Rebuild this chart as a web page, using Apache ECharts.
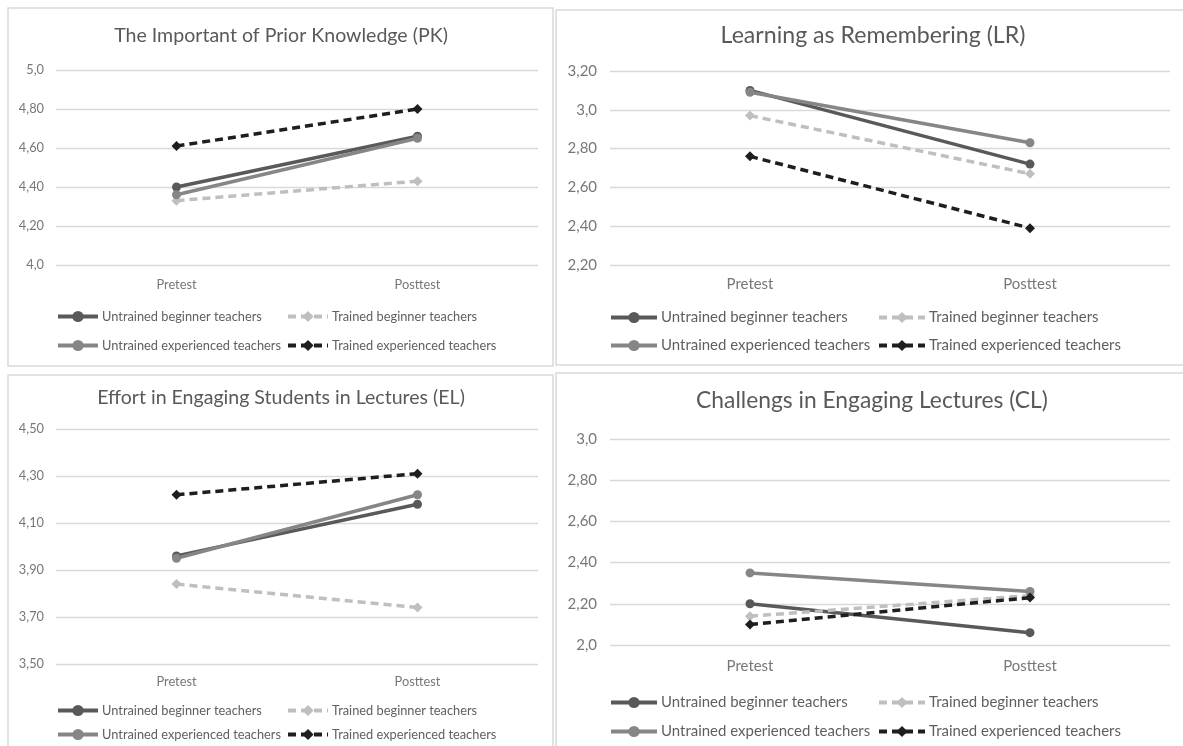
<!DOCTYPE html>
<html>
<head>
<meta charset="utf-8">
<script src="https://cdn.jsdelivr.net/npm/echarts@6/dist/echarts.min.js"></script>
<style>
html,body{margin:0;padding:0;background:#fff;}
#chart{width:1183px;height:746px;}
</style>
</head>
<body>
<div id="chart"></div>
<script>
// ---------- data ----------
const categories = ['Pretest', 'Posttest'];
const seriesNames = ['Untrained beginner teachers', 'Trained beginner teachers', 'Untrained experienced teachers', 'Trained experienced teachers'];

const pkTitle = 'The Important of Prior Knowledge (PK)';
const pkUntrainedBeginner = [4.40, 4.66];
const pkTrainedBeginner = [4.33, 4.43];
const pkUntrainedExperienced = [4.36, 4.65];
const pkTrainedExperienced = [4.61, 4.80];
const pkTicks = ['4,0', '4,20', '4,40', '4,60', '4,80', '5,0'];

const lrTitle = 'Learning as Remembering (LR)';
const lrUntrainedBeginner = [3.10, 2.72];
const lrTrainedBeginner = [2.97, 2.67];
const lrUntrainedExperienced = [3.09, 2.83];
const lrTrainedExperienced = [2.76, 2.39];
const lrTicks = ['2,20', '2,40', '2,60', '2,80', '3,0', '3,20'];

const elTitle = 'Effort in Engaging Students in Lectures (EL)';
const elUntrainedBeginner = [3.96, 4.18];
const elTrainedBeginner = [3.84, 3.74];
const elUntrainedExperienced = [3.95, 4.22];
const elTrainedExperienced = [4.22, 4.31];
const elTicks = ['3,50', '3,70', '3,90', '4,10', '4,30', '4,50'];

const clTitle = 'Challengs in Engaging Lectures (CL)';
const clUntrainedBeginner = [2.20, 2.06];
const clTrainedBeginner = [2.14, 2.24];
const clUntrainedExperienced = [2.35, 2.26];
const clTrainedExperienced = [2.10, 2.23];
const clTicks = ['2,0', '2,20', '2,40', '2,60', '2,80', '3,0'];

// ---------- styling helpers ----------
const FONT = 'Lato';
function fitSize(text, target) {
  const ctx = document.createElement('canvas').getContext('2d');
  ctx.font = '100px ' + FONT;
  return 100 * target / ctx.measureText(text).width;
}
const smallL = fitSize('Untrained beginner teachers', 160);
const smallR = fitSize('Untrained beginner teachers', 187);

const seriesStyles = [
  { color: '#595959', type: 'solid', symbol: 'circle', size: 9 },
  { color: '#bfbfbf', type: [8, 5], symbol: 'diamond', size: 10 },
  { color: '#868686', type: 'solid', symbol: 'circle', size: 9 },
  { color: '#1e1e1e', type: [8, 5], symbol: 'diamond', size: 10 }
];

const panels = [
  { title: pkTitle, titleW: 334, cx: 281, ty: 37, data: [pkUntrainedBeginner, pkTrainedBeginner, pkUntrainedExperienced, pkTrainedExperienced],
    ticks: pkTicks, min: 4.0, max: 5.0, grid: { left: 56, top: 70, width: 482, height: 195 }, font: smallL, labelMargin: 12,
    catY: 285, legendX: [56, 286], legendY: [317, 346], iw: 40 },
  { title: lrTitle, titleW: 305, cx: 873, ty: 38, data: [lrUntrainedBeginner, lrTrainedBeginner, lrUntrainedExperienced, lrTrainedExperienced],
    ticks: lrTicks, min: 2.2, max: 3.2, grid: { left: 610, top: 71, width: 560, height: 194 }, font: smallR, labelMargin: 13,
    catY: 284, legendX: [609, 877], legendY: [317, 345], iw: 46 },
  { title: elTitle, titleW: 368, cx: 281, ty: 399, data: [elUntrainedBeginner, elTrainedBeginner, elUntrainedExperienced, elTrainedExperienced],
    ticks: elTicks, min: 3.5, max: 4.5, grid: { left: 56, top: 429, width: 482, height: 235 }, font: smallL, labelMargin: 12,
    catY: 682, legendX: [56, 286], legendY: [711, 735], iw: 40 },
  { title: clTitle, titleW: 352, cx: 872, ty: 403, data: [clUntrainedBeginner, clTrainedBeginner, clUntrainedExperienced, clTrainedExperienced],
    ticks: clTicks, min: 2.0, max: 3.0, grid: { left: 610, top: 439, width: 560, height: 206 }, font: smallR, labelMargin: 13,
    catY: 666, legendX: [609, 877], legendY: [702, 731], iw: 46 }
];

const option = {
  backgroundColor: '#ffffff',
  animation: false,
  title: [], grid: [], xAxis: [], yAxis: [], series: [], legend: [],
  graphic: [
    { type: 'rect', shape: { x: 8, y: 8, width: 545, height: 358 }, style: { fill: 'none', stroke: '#d9d9d9', lineWidth: 1.5 }, z: 0 },
    { type: 'rect', shape: { x: 556, y: 10, width: 640, height: 355 }, style: { fill: 'none', stroke: '#d9d9d9', lineWidth: 1.5 }, z: 0 },
    { type: 'rect', shape: { x: 8, y: 375, width: 545, height: 400 }, style: { fill: 'none', stroke: '#d9d9d9', lineWidth: 1.5 }, z: 0 },
    { type: 'rect', shape: { x: 556, y: 373, width: 640, height: 400 }, style: { fill: 'none', stroke: '#d9d9d9', lineWidth: 1.5 }, z: 0 }
  ]
};

panels.forEach((p, gi) => {
  const tSize = fitSize(p.title, p.titleW);
  option.title.push({
    text: p.title, left: p.cx, top: p.ty - tSize * 0.6, textAlign: 'center', padding: 0,
    textStyle: { fontFamily: FONT, fontWeight: 'normal', fontSize: tSize, color: '#595959' }
  });
  option.grid.push(Object.assign({ containLabel: false }, p.grid));
  option.xAxis.push({
    type: 'category', gridIndex: gi, data: categories, boundaryGap: true,
    axisLine: { show: false }, axisTick: { show: false },
    axisLabel: { fontFamily: FONT, fontSize: p.font, color: '#777777', margin: p.catY - (p.grid.top + p.grid.height) - p.font / 2 }
  });
  const ticks = p.ticks;
  option.yAxis.push({
    type: 'value', gridIndex: gi, min: p.min, max: p.max, interval: 0.2,
    axisLine: { show: false }, axisTick: { show: false },
    splitLine: { lineStyle: { color: '#d9d9d9', width: 1.3 } },
    axisLabel: { fontFamily: FONT, fontSize: p.font, color: '#777777', margin: p.labelMargin,
      formatter: (v, i) => ticks[i] !== undefined ? ticks[i] : '' }
  });
  p.data.forEach((vals, si) => {
    const st = seriesStyles[si];
    option.series.push({
      type: 'line', name: seriesNames[si], xAxisIndex: gi, yAxisIndex: gi, data: vals,
      symbol: st.symbol, symbolSize: st.size,
      lineStyle: { color: st.color, width: 3.5, type: st.type },
      itemStyle: { color: st.color },
      z: 3
    });
  });
  const order = [[0, 0], [1, 0], [0, 1], [1, 1]]; // [col,row] per series
  seriesNames.forEach((nm, si) => {
    const [c, r] = order[si];
    option.legend.push({
      data: [nm], left: p.legendX[c], top: p.legendY[r] - 7, padding: 0,
      itemWidth: p.iw, itemHeight: 14, selectedMode: false,
      lineStyle: { width: 4 },
      textStyle: { fontFamily: FONT, fontSize: p.font, color: '#5f5f5f', padding: [0, 0, 0, -1] }
    });
  });
});

const chart = echarts.init(document.getElementById('chart'), null, { renderer: 'canvas' });
chart.setOption(option);
</script>
</body>
</html>
